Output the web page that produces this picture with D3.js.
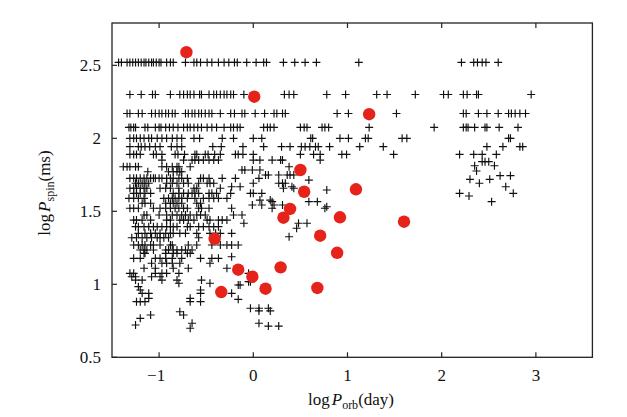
<!DOCTYPE html>
<html><head><meta charset="utf-8">
<script src="https://cdn.jsdelivr.net/npm/d3@7"></script>
<style>body{margin:0;background:#fff}svg{display:block}</style>
</head><body>
<script>
// ---- data (log P_spin rows of '+' markers, with their log P_orb values) ----
const rowLogPspin = [2.52, 2.30, 2.17, 2.075, 2.0, 1.943, 1.89, 1.851, 1.84, 1.812, 1.805, 1.783, 1.776, 1.771, 1.749, 1.744, 1.726, 1.719, 1.714, 1.692, 1.668, 1.658, 1.646, 1.623, 1.605, 1.589, 1.577, 1.566, 1.555, 1.543, 1.531, 1.521, 1.475, 1.44, 1.418, 1.395, 1.384, 1.349, 1.326, 1.319, 1.269, 1.235, 1.212, 1.189, 1.178, 1.144, 1.11, 1.075, 1.052, 1.029, 1.018, 1.007, 0.995, 0.984, 0.961, 0.938, 0.904, 0.897, 0.881, 0.836, 0.818, 0.812, 0.79, 0.767, 0.733, 0.721, 0.714, 0.699];
const rowLogPorb = [
 [-1.43,-1.40,-1.34,-1.31,-1.28,-1.25,-1.22,-1.19,-1.16,-1.14,-1.11,-1.08,-1.06,-1.03,-1.00,-0.98,-0.92,-0.88,-0.85,-0.72,-0.63,-0.60,-0.56,-0.49,-0.44,-0.37,-0.31,-0.26,-0.20,-0.17,-0.07,0.03,0.11,0.14,0.32,0.44,0.55,0.67,1.12,2.21,2.34,2.38,2.43,2.47,2.60],
 [-1.31,-1.19,-1.07,-1.04,-0.88,-0.78,-0.74,-0.70,-0.67,-0.63,-0.57,-0.55,-0.47,-0.42,-0.39,-0.35,-0.31,-0.28,-0.24,-0.21,-0.10,0.33,0.38,0.43,0.78,0.98,1.31,1.42,1.72,2.02,2.07,2.23,2.27,2.37,2.39,2.95],
 [-1.34,-1.31,-1.22,-1.18,-1.08,-1.04,-1.00,-0.97,-0.93,-0.90,-0.86,-0.83,-0.72,-0.69,-0.65,-0.62,-0.58,-0.55,-0.51,-0.47,-0.44,-0.35,-0.24,-0.20,-0.12,-0.09,0.02,0.12,0.22,0.25,0.31,0.34,0.89,1.01,1.52,2.23,2.26,2.39,2.48,2.60,2.71,2.74,2.78,2.83,2.89],
 [-1.32,-1.30,-1.27,-1.25,-1.15,-1.12,-1.04,-1.00,-0.98,-0.93,-0.89,-0.85,-0.80,-0.74,-0.70,-0.67,-0.63,-0.59,-0.55,-0.49,-0.44,-0.39,-0.31,-0.24,-0.21,-0.17,-0.14,0.11,0.15,0.18,0.22,0.50,0.54,0.57,0.73,0.76,0.80,1.23,1.92,2.23,2.26,2.28,2.35,2.46,2.48,2.61,2.81],
 [-1.31,-1.27,-1.24,-1.20,-1.16,-1.11,-1.08,-1.02,-0.97,-0.92,-0.86,-0.81,-0.76,-0.63,-0.57,-0.33,-0.21,0.00,0.09,0.61,0.63,0.92,1.01,1.19,1.22,1.58,1.63,2.71,2.73],
 [-1.31,-1.22,-1.19,-1.15,-1.10,-1.04,-0.99,-0.87,-0.81,-0.76,-0.43,-0.34,-0.11,0.11,0.30,0.39,0.51,0.55,0.60,0.66,0.69,0.81,1.13,1.38,2.48,2.65,2.83,2.86],
 [-1.31,-1.27,-1.24,-1.20,-1.06,-1.03,-0.97,-0.83,-0.80,-0.73,-0.62,-0.60,-0.51,-0.48,-0.41,-0.35,-0.19,-0.16,-0.11,0.00,0.50,0.64,0.71,0.94,0.99,1.49,2.19,2.34,2.43,2.58],
 [-0.97,-0.74,-0.65,-0.62,-0.58,-0.53,-0.47,-0.42,-0.37,0.00,0.07,0.20,0.29,0.31,0.71],
 [2.43,2.46,2.50],
 [2.35,2.56],
 [-1.38,-1.34,-1.31,-1.25,-1.22,-0.97,-0.92,-0.86,-0.81,-0.79,-0.67,0.38],
 [-0.12,-0.09,-0.01,0.07],
 [2.37],
 [-1.12,-0.90,-0.85,-0.81,-0.78,-0.76],
 [0.13,0.16,0.27,0.36,0.39,0.43],
 [2.62,2.73],
 [-1.31,-1.27,-1.24,-1.20,-1.16,-1.13,-1.09,-1.06,-1.04,-1.00,-0.97,-0.92,-0.88,-0.85,-0.79,-0.76,-0.70,-0.56,-0.53,-0.47,-0.33,-0.19,0.06],
 [2.30,2.51],
 [0.59],
 [-1.25,-1.22,-1.18,-1.15,-1.11,-0.92,-0.86,-0.81,-0.74,-0.69,-0.58,-0.49,-0.46,-0.42,0.00,0.27,0.31,0.34,2.40],
 [-0.23,-0.14,0.41,2.68],
 [-1.31,-1.27,-1.24,-1.20,-1.16,-1.13,-0.99,-0.93,-0.88,-0.79,-0.63,-0.60,-0.35,0.32,0.43],
 [0.78],
 [-1.27,-1.24,-1.20,-1.15,-1.09,-0.85,-0.79,-0.74,-0.69,-0.65,-0.62,-0.58,-0.47,-0.44,-0.39,-0.24,-0.03,0.00,0.09,2.19,2.76],
 [2.29],
 [-1.32,-1.27,-1.22,-1.16,-0.95,-0.90,-0.86,-0.83,-0.79,-0.76,-0.70,-0.62,-0.53,-0.47,-0.42,-0.37,-0.28],
 [0.07,0.18],
 [0.20,0.59,0.68,2.53],
 [-1.18,-1.15,-1.09,-0.93,-0.88,-0.85,-0.81,-0.76,-0.60,-0.56],
 [-0.01,0.09,0.22,0.31],
 [0.78],
 [-1.31,-1.27,-1.22,-1.06,-0.99,-0.93,-0.88,-0.83,-0.79,-0.74,-0.70,-0.58,-0.55,-0.47,-0.23,0.20,0.76],
 [-1.16,-1.13,-1.00,-0.92,-0.86,-0.81,-0.76,-0.72,-0.67,-0.60,-0.56,-0.51,-0.21,-0.12],
 [-1.27,-1.24,-1.18,-1.09,-0.92,-0.88,-0.78,-0.74,-0.69,-0.63,-0.49,-0.46,-0.37,-0.33,-0.28],
 [-0.10,0.48,0.57],
 [-1.25,-1.22,-1.16,-1.11,-1.06,-1.02,-0.97,-0.92,-0.88,-0.85,-0.81,-0.70,-0.67,-0.58,-0.53,-0.47,-0.42,-0.37],
 [0.46],
 [-1.22,-1.15,-1.09,-1.04,-0.99,-0.93,-0.88,-0.85,-0.78,-0.72,-0.60,-0.46,-0.40,-0.35,-0.23],
 [0.38],
 [-1.29,-1.24,-1.18,-1.13,-1.08,-1.02,-0.99,-0.95,-0.90,-0.58],
 [-1.27,-1.22,-1.18,-1.15,-1.09,-1.06,-0.99,-0.88,-0.86,-0.69,-0.60,-0.44,-0.35,-0.28,-0.23,-0.16],
 [-1.20,-1.16,-1.13,-1.06,-0.93,-0.90,-0.85,-0.81,-0.76,-0.72,-0.65],
 [-1.16,-1.15,-0.93,-0.85,-0.81,-0.70,-0.67],
 [-0.23],
 [-1.27,-1.20,-1.04,-0.99,-0.93,-0.86,-0.76,-0.56,-0.44,-0.37],
 [-1.08,-0.97,-0.92,-0.86,-0.78,-0.46],
 [-1.16,-1.04,-0.85,-0.69,-0.28],
 [-1.31,-1.27,-1.04,-0.97,-0.92,-0.79,-0.05],
 [-1.29,-1.25,-1.08,-0.99],
 [-1.25,-1.18,-0.97,-0.81,-0.55],
 [-0.05,-0.03],
 [-0.79,-0.46],
 [-0.16,-0.14],
 [-1.22],
 [-1.20,-0.56],
 [-1.18,-1.11,-0.56,-0.23],
 [-1.11,-0.67],
 [-0.16],
 [-1.24,-1.20,-1.15,-0.67,-0.56],
 [-0.03,0.06,0.16],
 [0.06,0.18],
 [-0.78],
 [-1.09,-0.74],
 [-1.20],
 [-0.65,0.06],
 [-1.25],
 [0.16,0.27],
 [-0.67]
];
// highlighted systems (red circles)
const redLogPorb  = [-0.71, 0.01, 1.23, 0.50, 1.09, 0.54, 1.60, 0.39, 0.92, 0.32, 0.71, -0.41, 0.89, 0.29, -0.16, -0.01, 0.13, 0.68, -0.34];
const redLogPspin = [2.59, 2.285, 2.165, 1.783, 1.651, 1.634, 1.429, 1.516, 1.459, 1.456, 1.333, 1.312, 1.216, 1.116, 1.10, 1.052, 0.97, 0.975, 0.947];
// axes
const xTicks = [-1, 0, 1, 2, 3];
const yTicks = [0.5, 1, 1.5, 2, 2.5];

const W = 627, H = 417;
const L = 112, R = 592.4, T = 23, B = 357.3;
const x = d3.scaleLinear().domain([-1.5, 3.6]).range([L, R]);
const y = d3.scaleLinear().domain([0.5, 2.79]).range([B, T]);

const svg = d3.select("body").append("svg").attr("width", W).attr("height", H);
const font = "'Liberation Serif','DejaVu Serif',serif";

// crosses
const crosses = [];
rowLogPspin.forEach((s, i) => rowLogPorb[i].forEach(o => crosses.push([o, s])));
svg.append("g").selectAll("path").data(crosses).join("path")
  .attr("transform", d => `translate(${x(d[0])},${y(d[1])})`)
  .attr("d", "M-4,0H4M0,-4V4")
  .attr("stroke", "#111").attr("stroke-width", 1.15).attr("fill", "none");

// red circles
svg.append("g").selectAll("circle").data(redLogPorb.map((o, i) => [o, redLogPspin[i]])).join("circle")
  .attr("cx", d => x(d[0])).attr("cy", d => y(d[1])).attr("r", 6.2)
  .attr("fill", "#e5231b");

// frame
svg.append("rect").attr("x", L).attr("y", T).attr("width", R - L).attr("height", B - T)
  .attr("fill", "none").attr("stroke", "#222").attr("stroke-width", 1.3);

// ticks
const tk = svg.append("g").attr("stroke", "#222").attr("stroke-width", 1.2);
xTicks.forEach(t => {
  tk.append("line").attr("x1", x(t)).attr("x2", x(t)).attr("y1", B).attr("y2", B - 5);
  tk.append("line").attr("x1", x(t)).attr("x2", x(t)).attr("y1", T).attr("y2", T + 5);
});
yTicks.forEach(t => {
  tk.append("line").attr("x1", L).attr("x2", L + 5).attr("y1", y(t)).attr("y2", y(t));
});

// tick labels
svg.append("g").selectAll("text").data(xTicks).join("text")
  .attr("x", d => x(d) - (d < 0 ? 3 : 0)).attr("y", 381)
  .attr("text-anchor", "middle").attr("font-family", font).attr("font-size", 17).attr("fill", "#111")
  .text(d => d < 0 ? "\u2212" + Math.abs(d) : String(d));
svg.append("g").selectAll("text").data(yTicks).join("text")
  .attr("x", 101).attr("y", d => y(d) + 5.5)
  .attr("text-anchor", "end").attr("font-family", font).attr("font-size", 17).attr("fill", "#111")
  .text(d => String(d));

// axis labels
function label(g, sub) {
  g.append("tspan").text("log");
  g.append("tspan").attr("dx", 2).attr("font-style", "italic").text("P");
  g.append("tspan").attr("font-size", 12).attr("dy", 4).text(sub);
  g.append("tspan").attr("dy", -4).text(sub === "orb" ? "(day)" : "(ms)");
}
const xl = svg.append("text").attr("x", 351).attr("y", 405).attr("text-anchor", "middle")
  .attr("font-family", font).attr("font-size", 17).attr("fill", "#111");
label(xl, "orb");
const yl = svg.append("text").attr("transform", "translate(50,193) rotate(-90)").attr("text-anchor", "middle")
  .attr("font-family", font).attr("font-size", 17).attr("fill", "#111");
label(yl, "spin");
</script>
</body></html>
